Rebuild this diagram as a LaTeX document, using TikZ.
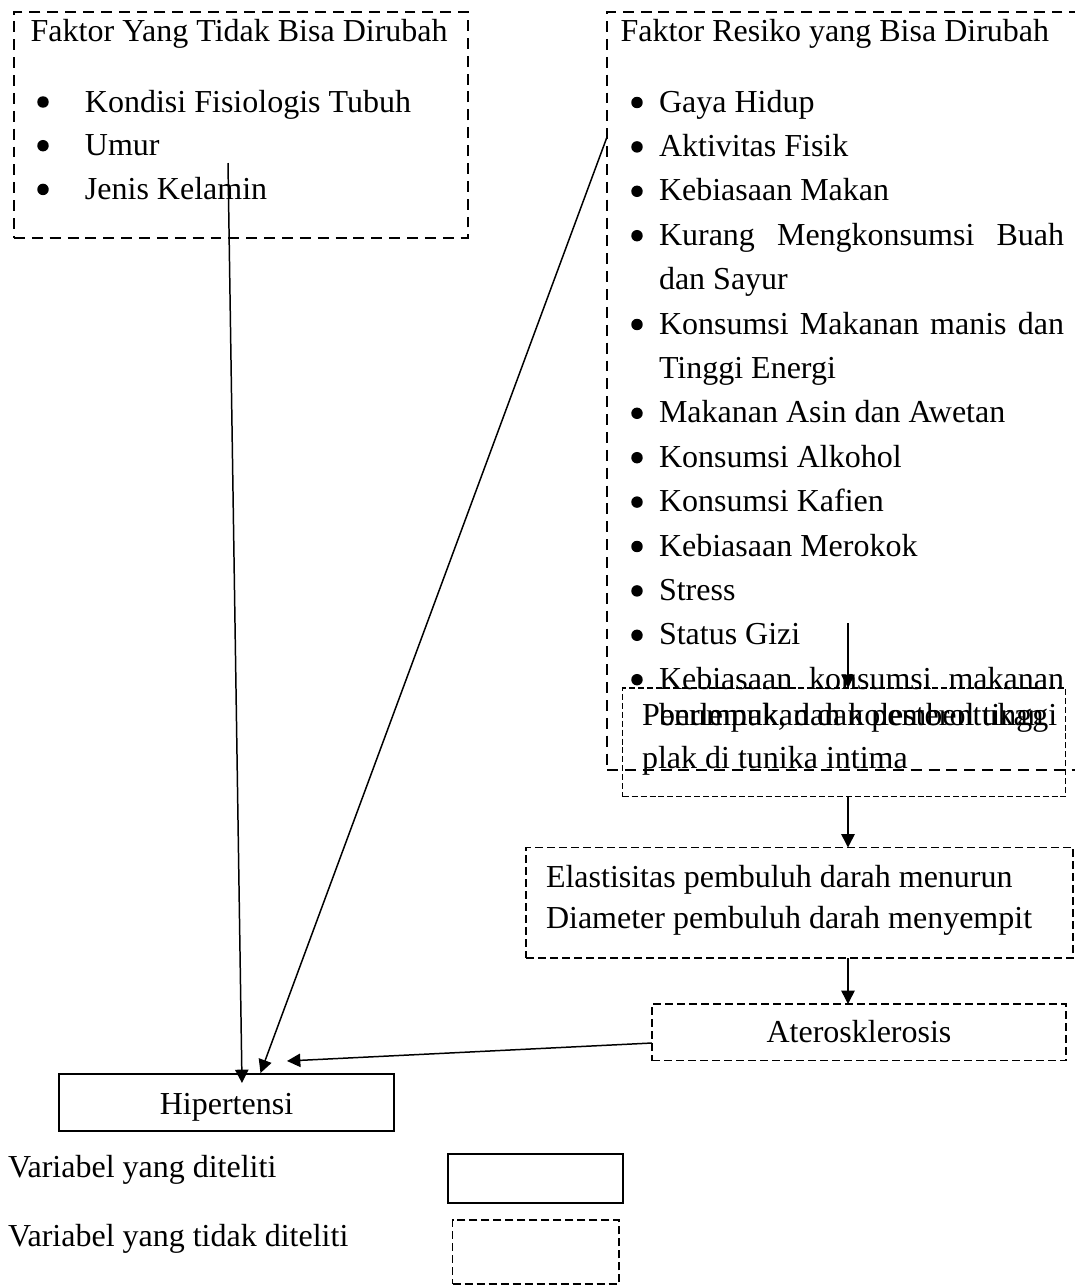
\documentclass[tikz,border=0pt]{standalone}
\usepackage{fontspec}
\setmainfont{Liberation Serif}
\usetikzlibrary{arrows.meta,fit}
\begin{document}
\begin{tikzpicture}[x=0.375pt,y=-0.375pt,
  every node/.style={inner sep=0pt,outer sep=0pt,font=\fontsize{12pt}{16.4pt}\selectfont},
  box/.style={draw,rectangle,line width=0.56pt,inner sep=0pt},
  bigdash/.style={dash pattern=on 4.1pt off 2.6pt},
  meddash/.style={dash pattern=on 3pt off 1.5pt},
  smalldash/.style={dash pattern=on 2.25pt off 1.1pt},
  txt/.style={anchor=base west},
  bul/.style={circle,fill,draw=none,minimum size=4.3pt},
  ctr/.style={anchor=base},
  arr/.style={-{Triangle[length=5pt,width=5pt]},line width=0.56pt},
]
\clip (0,0) rectangle (1075,1286);
\fill[white] (0,0) rectangle (1075,1286);

% ---------- left box ----------
\node[box,bigdash,fit={(14,12) (468,238)}] (lbox) {};
\node[txt] (ltitle) at (30.7,41.7) {Faktor Yang Tidak Bisa Dirubah};
\node[bul] (lb1) at (43,102) {};
\node[txt] (l1) at (85,112) {Kondisi Fisiologis Tubuh};
\node[bul] (lb2) at (43,145.7) {};
\node[txt] (l2) at (85,155.7) {Umur};
\node[bul] (lb3) at (43,189.4) {};
\node[txt] (l3) at (85,199.4) {Jenis Kelamin};

% ---------- right box ----------
\node[box,bigdash,fit={(607,12) (1090,770)}] (rbox) {};
\node[txt] (rtitle) at (620.7,41.7) {Faktor Resiko yang Bisa Dirubah};
\foreach \i/\t/\b in {
  0/{Gaya Hidup}/1,
  1/{Aktivitas Fisik}/1,
  2/{Kebiasaan Makan}/1,
  3/{\makebox[151.9pt][s]{Kurang Mengkonsumsi Buah}}/1,
  4/{dan Sayur}/0,
  5/{\makebox[151.9pt][s]{Konsumsi Makanan manis dan}}/1,
  6/{Tinggi Energi}/0,
  7/{Makanan Asin dan Awetan}/1,
  8/{Konsumsi Alkohol}/1,
  9/{Konsumsi Kafien}/1,
  10/{Kebiasaan Merokok}/1,
  11/{Stress}/1,
  12/{Status Gizi}/1,
  13/{\makebox[151.9pt][s]{Kebiasaan konsumsi makanan}}/1}{
  \node[txt] (r\i) at (659,112+44.4*\i) {\t};
  \ifnum\b=1 \node[bul] (rb\i) at (637,102.5+44.4*\i) {};\fi
}
\node[txt] (r14) at (659,725) {berlemak, dan kolesterol tinggi};

% ---------- chain ----------
\node[box,smalldash,fit={(622.7,688) (1065.7,796.7)}] (pen) {};
\node[txt] (pen1) at (642,725) {Penumpukan dan pembentukan};
\node[txt] (pen2) at (642,768) {plak di tunika intima};

\node[box,meddash,fit={(526,847.5) (1073,958)}] (ela) {};
\node[txt] (ela1) at (546,887) {Elastisitas pembuluh darah menurun};
\node[txt] (ela2) at (546,928) {Diameter pembuluh darah menyempit};

\node[box,meddash,fit={(652,1004) (1066,1060.7)}] (ater) {};
\node[ctr] (atertxt) at (859,1042.7) {Aterosklerosis};

\node[box,line width=0.75pt,fit={(59,1074) (394,1131)}] (hip) {};
\node[ctr] (hiptxt) at (226.5,1114) {Hipertensi};

% ---------- arrows ----------
\coordinate (ax) at (848,0);
\coordinate (s0) at (848,623);
\draw[arr] (s0) -- (pen.north -| ax);
\draw[arr] (pen.south -| ax) -- (ela.north -| ax);
\draw[arr] (ela.south -| ax) -- (ater.north -| ax);

\coordinate (s1) at (228,163);
\coordinate (e1) at (242,1083);
\draw[arr] (s1) -- (e1);
\coordinate (s2) at (607,137);
\coordinate (e2) at (260.5,1073);
\draw[arr] (s2) -- (e2);
\coordinate (s3) at (652,1043);
\coordinate (e3) at (287,1061);
\draw[arr] (s3) -- (e3);

% ---------- legend ----------
\node[txt] (leg1) at (8,1177) {Variabel yang diteliti};
\node[txt] (leg2) at (8,1246) {Variabel yang tidak diteliti};
\node[box,line width=0.75pt,fit={(448,1154) (622.7,1202.7)}] (legs) {};
\node[box,meddash,fit={(452.7,1220) (619,1284)}] (legd) {};
\end{tikzpicture}
\end{document}
